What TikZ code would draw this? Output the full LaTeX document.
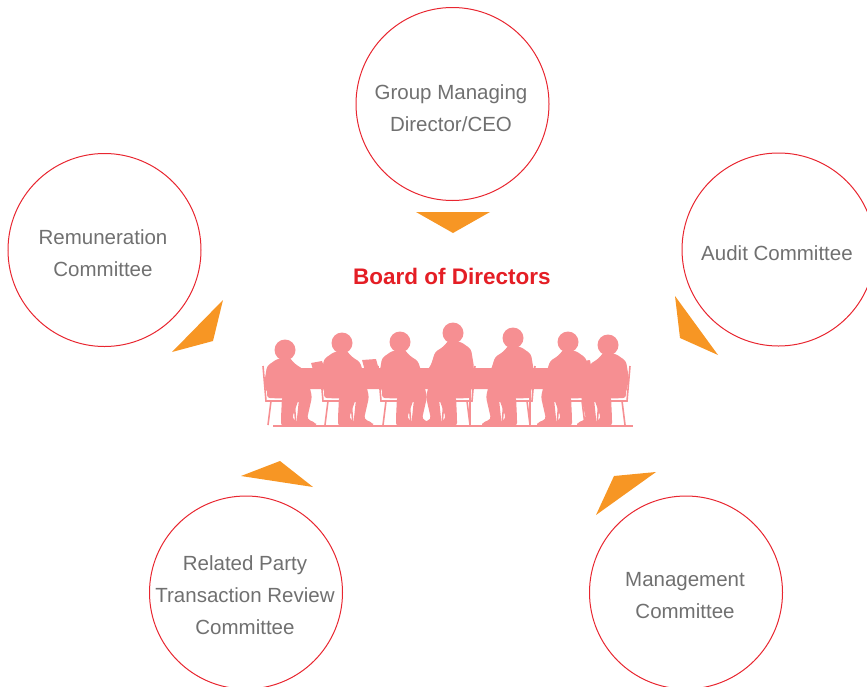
\documentclass[tikz,border=0pt]{standalone}
\usepackage{fontspec}
\newfontfamily\labelfont{Liberation Sans}
\definecolor{ringred}{RGB}{232,38,48}
\definecolor{titlered}{RGB}{228,30,37}
\definecolor{wedge}{RGB}{247,150,36}
\definecolor{labelgray}{RGB}{112,112,112}
\definecolor{sil}{RGB}{246,143,146}
\tikzset{
  ring/.style={circle, draw=ringred, line width=1pt, minimum size=193pt, inner sep=0pt},
  label text/.style={align=center, text=labelgray, inner sep=0pt,
    font=\labelfont\fontsize{20.5}{32}\selectfont},
  title/.style={text=titlered, font=\labelfont\bfseries\fontsize{22.5}{26}\selectfont},
  pointer/.style={fill=wedge, draw=none},
  silfill/.style={fill=sil, draw=none, rounded corners=3pt},
  silline/.style={draw=sil, line width=1.6pt},
}
\begin{document}
\begin{tikzpicture}[x=1pt,y=-1pt]
\useasboundingbox (0,0) rectangle (867,686);
\clip (0,0) rectangle (867,686);

% committees around the board
\node[ring] (ceo)   at (452.5,104)   {};
\node[ring] (rem)   at (104.5,250)   {};
\node[ring] (audit) at (778.5,249.5) {};
\node[ring] (rpt)   at (246,592.5)   {};
\node[ring] (mgmt)  at (686,592.5)   {};
\node[label text] (ceo-t)   at (451,108)   {Group Managing\\Director/CEO};
\node[label text] (rem-t)   at (103,253.5) {Remuneration\\Committee};
\node[label text] (audit-t) at (777,253)   {Audit Committee};
\node[label text] (rpt-t)   at (245,595)   {Related Party\\Transaction Review\\Committee};
\node[label text] (mgmt-t)  at (685,595.5) {Management\\Committee};

\node[title] (board) at (452,276.5) {Board of Directors};

% orange pointers towards the board
\fill[pointer] (416,212) -- (490,212) -- (453,233) -- cycle;
\fill[pointer] (223,300) -- (213,341) -- (172,352) -- cycle;
\fill[pointer] (675,296) -- (680,338) -- (718,355) -- cycle;
\fill[pointer] (241,476) -- (280,461) -- (313,487) -- cycle;
\fill[pointer] (614,476) -- (656,472) -- (596,515) -- cycle;

% meeting silhouette: floor, table, laptops
\draw[silline, line width=1.3pt] (273,426) -- (633,426);
\fill[silfill, rounded corners=1pt] (300,368) rectangle (602,389);
\fill[silfill, rounded corners=0.5pt] (311,363) -- (322,361) -- (326,372) -- (314,373) -- cycle;
\fill[silfill, rounded corners=0.5pt] (362,360) -- (376,359) -- (379,370) -- (365,371) -- cycle;
\fill[silfill, rounded corners=0.5pt] (576,362) -- (590,360) -- (592,372) -- (578,373) -- cycle;
\draw[silline, line width=1.2pt] (433,388) -- (433,426);
\draw[silline, line width=1.2pt] (470,388) -- (470,426);
\draw[silline, line width=1.2pt] (530,388) -- (530,426);

% seated people (head x, head y, facing direction)
\foreach \px/\hy/\d in {285/350/1, 342/343/1, 400/342/1, 453/333/-1, 513/338/-1, 568/342/-1, 608/345/-1}{
  % chair
  \draw[silline] ({\px-\d*22},366) -- ({\px-\d*19},401) -- ({\px+\d*14},401);
  \draw[silline] ({\px-\d*14},401) -- ({\px-\d*17},425);
  \draw[silline] ({\px+\d*9},401) -- ({\px+\d*11},425);
  % head
  \fill[sil] (\px,\hy) circle[radius=10.5];
  % torso and arm
  \fill[silfill] ({\px+\d*4},{\hy+7}) -- ({\px+\d*10},{\hy+14}) -- ({\px+\d*18},{\hy+19})
     -- ({\px+\d*22},{\hy+32}) -- ({\px+\d*27},372) -- ({\px+\d*18},391)
     -- ({\px-\d*18},393) -- ({\px-\d*21},{\hy+34}) -- ({\px-\d*18},{\hy+16})
     -- ({\px-\d*8},{\hy+9}) -- cycle;
  % legs
  \fill[silfill] ({\px-\d*18},383) -- ({\px+\d*24},384) -- ({\px+\d*27},397)
     -- ({\px+\d*22},419) -- ({\px+\d*31},423) -- ({\px+\d*31},426) -- ({\px+\d*11},426)
     -- ({\px+\d*12},418) -- ({\px+\d*14},399) -- ({\px-\d*18},398) -- cycle;
  \fill[silfill] ({\px+\d*1},392) -- ({\px+\d*16},393) -- ({\px+\d*7},418)
     -- ({\px+\d*14},423) -- ({\px+\d*14},426) -- ({\px-\d*4},426) -- ({\px-\d*4},418)
     -- ({\px-\d*3},397) -- cycle;
}
\end{tikzpicture}
\end{document}
